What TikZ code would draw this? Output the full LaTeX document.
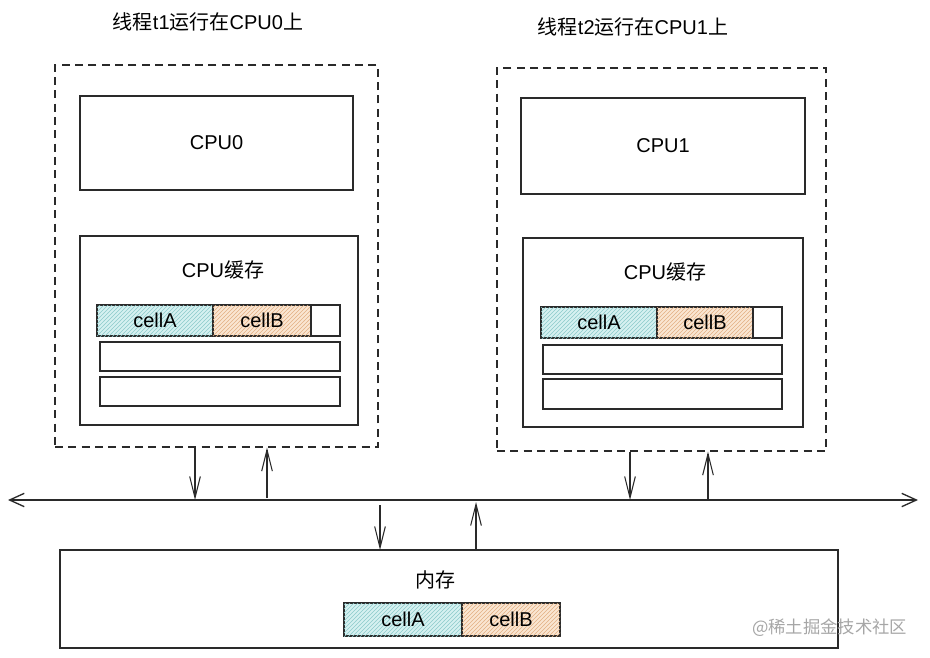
\documentclass[tikz,border=0pt]{standalone}
\usepackage{fontspec}
\setmainfont{Liberation Sans}
\newfontfamily\cjk{Noto Sans CJK SC}
\usetikzlibrary{arrows.meta,patterns,fit}
\definecolor{cellAfill}{HTML}{D6F1F1}
\definecolor{cellAhatch}{HTML}{8CCACA}
\definecolor{cellBfill}{HTML}{FAE6D2}
\definecolor{cellBhatch}{HTML}{E2B084}
\definecolor{inkc}{HTML}{2A2A2A}
\begin{document}
\begin{tikzpicture}[x=0.75pt,y=-0.75pt,
  box/.style={draw=inkc,line width=0.9pt,inner sep=0pt},
  dbox/.style={draw=inkc,line width=0.9pt,dashed,dash pattern=on 6pt off 4pt,inner sep=0pt},
  lbl/.style={font=\fontsize{15}{17}\selectfont,text=black},
  cA/.style={box,fill=cellAfill,postaction={pattern=north east lines,pattern color=cellAhatch}},
  cB/.style={box,fill=cellBfill,postaction={pattern=north east lines,pattern color=cellBhatch}},
  arr/.style={draw=inkc,line width=0.8pt,-{Straight Barb[length=16pt,width=8pt]}},
  bus/.style={draw=inkc,line width=1pt,{Straight Barb[length=11pt,width=10pt]}-{Straight Barb[length=11pt,width=10pt]}}]
\useasboundingbox (0,0) rectangle (930,657);
% titles
\node[lbl] (t1) at (208,22) {{\cjk 线程}t1{\cjk 运行在}CPU0{\cjk 上}};
\node[lbl] (t2) at (633,27) {{\cjk 线程}t2{\cjk 运行在}CPU1{\cjk 上}};
% dashed thread boxes
\node[dbox,fit={(55,65) (378,447)}] (th1) {};
\node[dbox,fit={(497,68) (826,451)}] (th2) {};
% CPUs
\node[box,fit={(80,96) (353,190)}] (cpu0) {};
\node[lbl] at (cpu0.center) {CPU0};
\node[box,fit={(521,98) (805,194)}] (cpu1) {};
\node[lbl] at (cpu1.center) {CPU1};
% caches
\node[box,fit={(80,236) (358,425)}] (c0) {};
\node[lbl] (c0t) at (223,270) {CPU{\cjk 缓存}};
\node[cA,fit={(97,305) (213,336)}] (a0) {};
\node[lbl] at (a0.center) {cellA};
\node[cB,fit={(213,305) (311,336)}] (b0) {};
\node[lbl] at (b0.center) {cellB};
\node[box,fit={(311,305) (340,336)}] (e0) {};
\node[box,fit={(100,342) (340,371)}] (r01) {};
\node[box,fit={(100,377) (340,406)}] (r02) {};
\node[box,fit={(523,238) (803,427)}] (c1) {};
\node[lbl] (c1t) at (665,272) {CPU{\cjk 缓存}};
\node[cA,fit={(541,307) (657,338)}] (a1) {};
\node[lbl] at (a1.center) {cellA};
\node[cB,fit={(657,307) (753,338)}] (b1) {};
\node[lbl] at (b1.center) {cellB};
\node[box,fit={(753,307) (782,338)}] (e1) {};
\node[box,fit={(543,345) (782,374)}] (r11) {};
\node[box,fit={(543,379) (782,409)}] (r12) {};
% memory
\node[box,fit={(60,550) (838,648)}] (mem) {};
\node[lbl,font=\cjk\fontsize{15}{17}\selectfont] (memt) at (435,580) {内存};
\node[cA,fit={(344,603) (462,636)}] (ma) {};
\node[lbl] at (ma.center) {cellA};
\node[cB,fit={(462,603) (560,636)}] (mb) {};
\node[lbl] at (mb.center) {cellB};
% bus
\coordinate (busL) at (8,500);
\coordinate (busR) at (918,500);
\draw[bus] (busL) -- (busR);
\coordinate (p1) at (195,500);
\coordinate (p2) at (267,498);
\coordinate (p3) at (630,500);
\coordinate (p4) at (708,500);
\coordinate (p5) at (380,550);
\coordinate (p6) at (476,502);
\draw[arr] (p1 |- th1.south) -- (p1);
\draw[arr] (p2) -- (p2 |- th1.south);
\draw[arr] (p3 |- th2.south) -- (p3);
\draw[arr] (p4) -- (p4 |- th2.south);
\draw[arr] (p5 |- busL) ++(0,5) coordinate (p5s) -- (p5);
\draw[arr] (p6 |- mem.north) -- (p6);
% watermark
\node[font=\cjk\fontsize{13}{15}\selectfont,text=gray!70,anchor=east] (wm) at (912,628) {@稀土掘金技术社区};
\end{tikzpicture}
\end{document}
